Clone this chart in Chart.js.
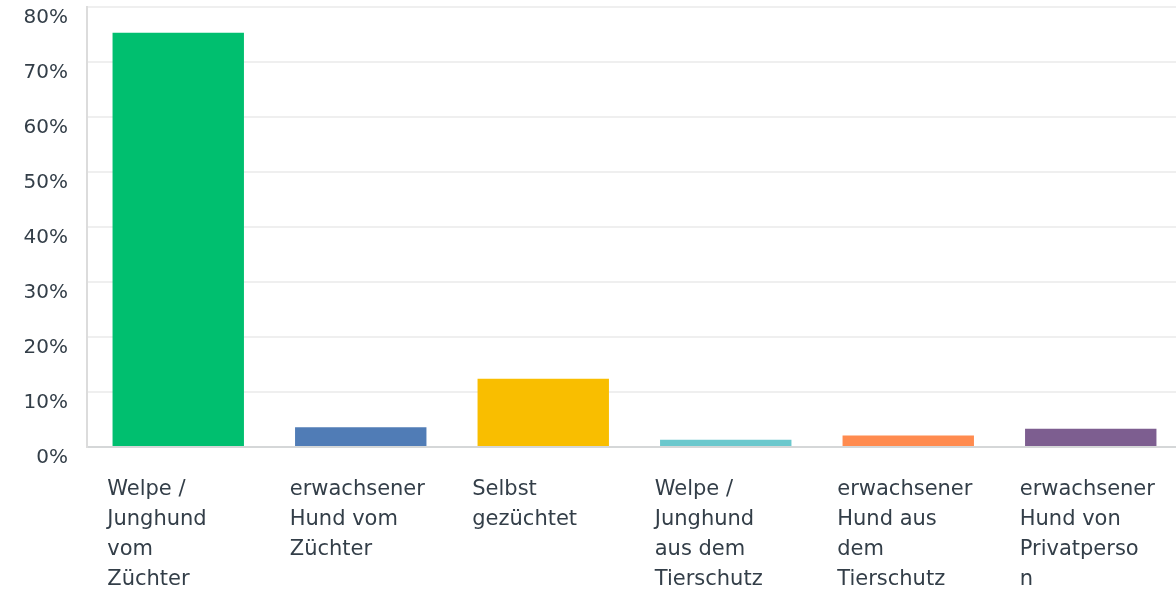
<!DOCTYPE html>
<html>
<head>
<meta charset="utf-8">
<script src="https://cdn.jsdelivr.net/npm/chart.js@4"></script>
<style>
  html, body { margin: 0; padding: 0; background: #fff; overflow: hidden; }
  #wrap { width: 1176px; height: 593px; overflow: hidden; }
</style>
</head>
<body>
<div id="wrap"><canvas id="myChart" width="1182" height="593"></canvas></div>
<script>
    const categories = [
        ['Welpe /', 'Junghund', 'vom', 'Züchter'],
        ['erwachsener', 'Hund vom', 'Züchter'],
        ['Selbst', 'gezüchtet'],
        ['Welpe /', 'Junghund', 'aus dem', 'Tierschutz'],
        ['erwachsener', 'Hund aus', 'dem', 'Tierschutz'],
        ['erwachsener', 'Hund von', 'Privatperso', 'n']
    ];
    const percentages = [75.3, 3.6, 12.4, 1.3, 2.1, 3.3];
    const barColors = ['#00bf6f', '#507cb6', '#f9be00', '#6bc8cd', '#ff8b4f', '#7d5e90'];
    const yTicks = [0, 10, 20, 30, 40, 50, 60, 70, 80];

    const textColor = '#333e48';
    const fontFamily = '"DejaVu Sans", sans-serif';

    const ctx = document.getElementById('myChart').getContext('2d');
    const chart = new Chart(ctx, {
        type: 'bar',
        data: {
            labels: categories,
            datasets: [{
                data: percentages,
                backgroundColor: barColors,
                borderWidth: 0,
                barPercentage: 0.72,
                categoryPercentage: 1
            }]
        },
        options: {
            responsive: false,
            animation: false,
            layout: { padding: 0 },
            plugins: {
                legend: { display: false },
                tooltip: { enabled: false }
            },
            scales: {
                x: {
                    grid: { display: false, drawTicks: false },
                    border: { color: '#d5d7d8', width: 2 },
                    ticks: {
                        autoSkip: false,
                        maxRotation: 0,
                        minRotation: 0,
                        align: 'start',
                        labelOffset: -71,
                        padding: 28,
                        color: textColor,
                        font: { family: fontFamily, size: 21, lineHeight: '30px' }
                    },
                    afterFit: function (scale) {
                        scale.paddingLeft = 0;
                        scale.paddingRight = 0;
                        scale.height = 146;
                    }
                },
                y: {
                    min: 0,
                    max: 80,
                    afterBuildTicks: function (scale) {
                        scale.ticks = yTicks.map(v => ({ value: v }));
                    },
                    grid: { color: '#efefef', lineWidth: 2, drawTicks: false },
                    border: { color: '#dcdcdc', width: 2 },
                    ticks: {
                        padding: 19,
                        labelOffset: 11,
                        color: textColor,
                        font: { family: fontFamily, size: 20 },
                        callback: v => v + '%'
                    },
                    afterFit: function (scale) {
                        scale.width = 87;
                        scale.paddingTop = 7;
                    }
                }
            }
        }
    });
</script>
</body>
</html>
